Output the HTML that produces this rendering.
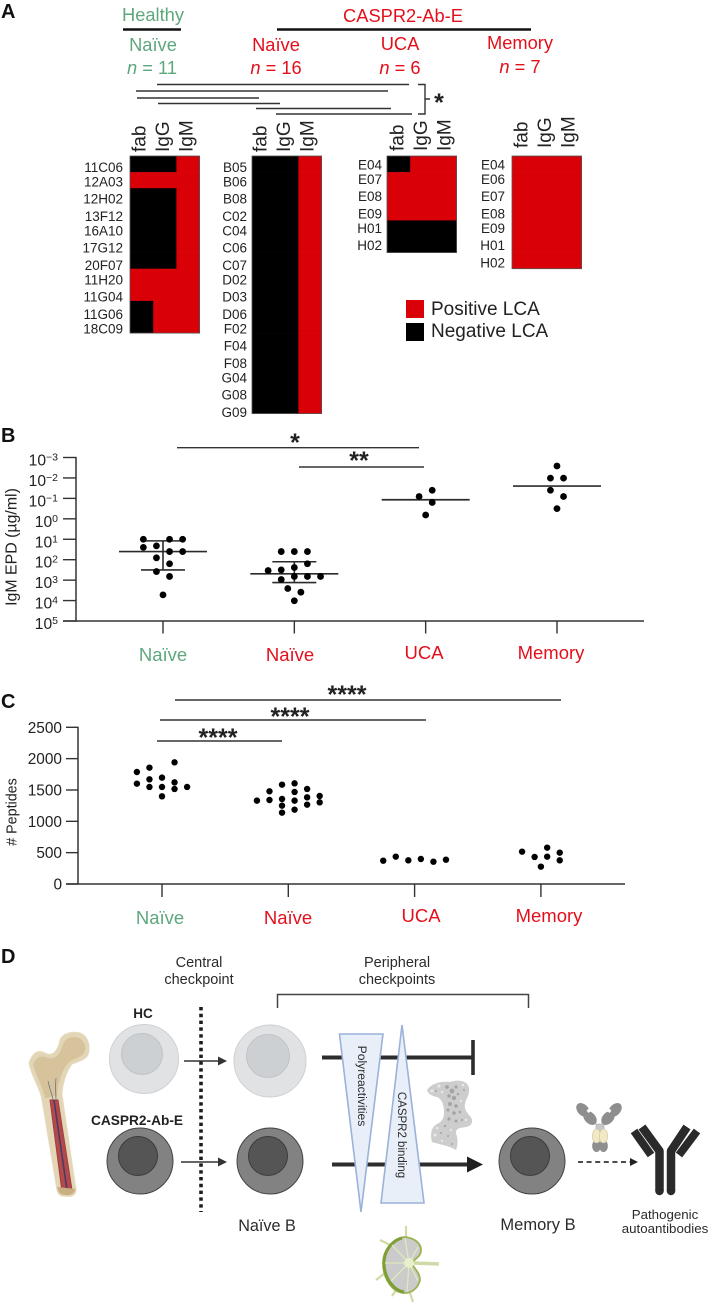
<!DOCTYPE html>
<html lang="en">
<head>
<meta charset="utf-8">
<title>CASPR2 antibody figure</title>
<style>
html,body{margin:0;padding:0;background:#fff;width:712px;height:1306px;overflow:hidden}
svg{display:block;filter:blur(.35px)}
text{font-family:"Liberation Sans",sans-serif}
.g{fill:#5ea77c}.r{fill:#e3101c}.k{fill:#222}
.t18{font-size:18.3px}
.xl{font-size:18.5px}
.pl{font-size:20px;font-weight:bold;fill:#111}
.star{font-size:25px;font-weight:bold;fill:#222;text-anchor:middle}
.d{fill:#2b2b2b;text-anchor:middle}
.sig{stroke:#333;stroke-width:1.4;fill:none}
</style>
</head>
<body>
<svg id="fig" xmlns="http://www.w3.org/2000/svg" width="712" height="1306" viewBox="0 0 712 1306">
<rect width="712" height="1306" fill="#fff"/>

<!-- PANEL A -->
<g>
<text class="pl" x="1" y="18">A</text>
<text class="g t18" x="153" y="21" text-anchor="middle">Healthy</text>
<text class="r t18" x="403" y="22" text-anchor="middle">CASPR2-Ab-E</text>
<line x1="123" x2="181" y1="29.5" y2="29.5" stroke="#111" stroke-width="2.4"/>
<line x1="277" x2="531" y1="29.5" y2="29.5" stroke="#111" stroke-width="2.4"/>
<text class="g t18" x="153" y="51" text-anchor="middle">Naïve</text>
<text class="r t18" x="276" y="51" text-anchor="middle">Naïve</text>
<text class="r t18" x="400" y="50" text-anchor="middle">UCA</text>
<text class="r t18" x="520" y="49" text-anchor="middle">Memory</text>
<text class="g t18" x="152" y="74" text-anchor="middle"><tspan font-style="italic">n</tspan> = 11</text>
<text class="r t18" x="276" y="74" text-anchor="middle"><tspan font-style="italic">n</tspan> = 16</text>
<text class="r t18" x="400" y="74" text-anchor="middle"><tspan font-style="italic">n</tspan> = 6</text>
<text class="r t18" x="520" y="73" text-anchor="middle"><tspan font-style="italic">n</tspan> = 7</text>
<g class="sig">
<line x1="157" x2="409" y1="84.5" y2="84.5"/>
<line x1="136" x2="388" y1="91" y2="91"/>
<line x1="137" x2="259" y1="98" y2="98"/>
<line x1="158" x2="280" y1="103.5" y2="103.5"/>
<line x1="256" x2="391" y1="108.5" y2="108.5"/>
<line x1="276" x2="412" y1="114" y2="114"/>
<path d="M418 84.5 H425 V114 H418 M425 99 H430"/>
</g>
<text class="star" x="439" y="111">*</text>
<g id="heatmaps"></g>
<rect x="406" y="300" width="18" height="18" fill="#d90008"/>
<rect x="406" y="323" width="18" height="18" fill="#000"/>
<text x="431" y="315" font-size="19" fill="#222">Positive LCA</text>
<text x="431" y="337" font-size="19" fill="#222">Negative LCA</text>
</g>

<!-- PANEL B -->
<g>
<text class="pl" x="1" y="442">B</text>
<text transform="translate(16.5 547) rotate(-90)" font-size="15.9" text-anchor="middle" fill="#222">IgM EPD (µg/ml)</text>
<g id="chartB"></g>
<text class="g xl" x="163" y="661" text-anchor="middle">Naïve</text>
<text class="r xl" x="290" y="661" text-anchor="middle">Naïve</text>
<text class="r xl" x="424" y="659" text-anchor="middle">UCA</text>
<text class="r xl" x="551" y="659" text-anchor="middle">Memory</text>
<line class="sig" x1="177" x2="419" y1="447.7" y2="447.7"/>
<line class="sig" x1="299" x2="424" y1="467" y2="467"/>
<text class="star" x="295" y="451">*</text>
<text class="star" x="359" y="469">**</text>
</g>

<!-- PANEL C -->
<g>
<text class="pl" x="1" y="708">C</text>
<text transform="translate(16.5 812) rotate(-90)" font-size="14.3" text-anchor="middle" fill="#222"># Peptides</text>
<g id="chartC"></g>
<text class="g xl" x="160" y="924" text-anchor="middle">Naïve</text>
<text class="r xl" x="288" y="924" text-anchor="middle">Naïve</text>
<text class="r xl" x="421" y="922" text-anchor="middle">UCA</text>
<text class="r xl" x="549" y="922" text-anchor="middle">Memory</text>
<line class="sig" x1="175" x2="561" y1="700" y2="700"/>
<line class="sig" x1="160" x2="426" y1="720" y2="720"/>
<line class="sig" x1="157" x2="282" y1="741" y2="741"/>
<text class="star" x="347" y="703">****</text>
<text class="star" x="290" y="725">****</text>
<text class="star" x="218" y="746">****</text>
</g>

<!-- PANEL D -->
<g>
<text class="pl" x="1" y="963">D</text>
<text class="d" font-size="14.5" x="199" y="967">Central</text>
<text class="d" font-size="14.5" x="199" y="984">checkpoint</text>
<text class="d" font-size="14.5" x="397" y="967">Peripheral</text>
<text class="d" font-size="14.5" x="397" y="984">checkpoints</text>
<path d="M277.5 1008 V994.5 H528.5 V1008" fill="none" stroke="#444" stroke-width="1.5"/>

<g>
<path d="M29 1063 C33 1052 38 1049 47 1054 C54 1056 58 1050 60 1040 C63 1033 72 1031 80 1033 C88 1036 91 1046 88 1055 C85 1060 77 1062 72 1064 C66 1072 62 1085 62 1095 L76 1190 C76 1196 70 1197 66 1196 C60 1197 58 1194 57 1190 L42 1100 C41 1090 32 1078 29 1063 Z" fill="#e3d6b6" stroke="#e6dabd" stroke-width="1"/>
<path d="M33 1064 C37 1056 42 1055 48 1058 C56 1060 61 1053 63 1044 C66 1037 73 1036 79 1038 C85 1041 87 1048 84 1053 C80 1058 73 1059 69 1062 C62 1070 58 1082 57 1096 L45 1098 C42 1085 36 1076 33 1064 Z" fill="#d6c39b"/>
<path d="M50 1100 L58 1100 L72 1190 L62 1192 Z" fill="#b24a4c" stroke="#a43c40" stroke-width="1"/>
<path d="M54 1100 L67 1190" stroke="#4b3a63" stroke-width="1.6" fill="none"/>
<path d="M48 1081 C50 1090 52 1094 53 1100 M56 1078 C55 1088 56 1094 56 1100" stroke="#6f7480" stroke-width=".8" fill="none"/>
<path d="M58 1190 C59 1197 74 1197 75 1190 L76 1189 L57 1187 Z" fill="#c9b083"/>
</g>

<text x="143" y="1018" font-size="13.5" font-weight="bold" fill="#222" text-anchor="middle">HC</text>
<text x="137" y="1125" font-size="13.7" font-weight="bold" fill="#222" text-anchor="middle">CASPR2-Ab-E</text>

<g><circle cx="144" cy="1059" r="34.5" fill="#e1e2e4" stroke="#cfd0d3"/><circle cx="142" cy="1054" r="20.5" fill="#ccd0d3" stroke="#c0c4c8"/></g>
<g><circle cx="270" cy="1061" r="36" fill="#e1e2e4" stroke="#cfd0d3"/><circle cx="268" cy="1056" r="21.5" fill="#ccd0d3" stroke="#c0c4c8"/></g>
<g><circle cx="140" cy="1161" r="33" fill="#828282" stroke="#444"/><circle cx="138" cy="1156" r="19.5" fill="#555" stroke="#3c3c3c"/></g>
<g><circle cx="270" cy="1161" r="33" fill="#828282" stroke="#444"/><circle cx="268" cy="1156" r="19.5" fill="#555" stroke="#3c3c3c"/></g>
<g><circle cx="532" cy="1161" r="33" fill="#828282" stroke="#444"/><circle cx="530" cy="1156" r="19.5" fill="#555" stroke="#3c3c3c"/></g>

<line x1="201" x2="201" y1="1007" y2="1212" stroke="#1d1d1d" stroke-width="3.6" stroke-dasharray="3.4 3.4"/>
<g fill="#333" stroke="#333">
<path d="M184 1061 H219" stroke-width="1.4" fill="none"/><path d="M218 1056.5 L227 1061 L218 1065.5 Z" stroke="none"/>
<path d="M181 1162 H219" stroke-width="1.4" fill="none"/><path d="M218 1157.5 L227 1162 L218 1166.5 Z" stroke="none"/>
</g>

<line x1="322" x2="473" y1="1057.5" y2="1057.5" stroke="#2d2d2d" stroke-width="4"/>
<line x1="473" x2="473" y1="1040" y2="1075" stroke="#2d2d2d" stroke-width="3.6"/>
<line x1="332" x2="470" y1="1164.5" y2="1164.5" stroke="#2d2d2d" stroke-width="4"/>
<path d="M467 1156.5 L483 1164.5 L467 1172.5 Z" fill="#1f1f1f"/>

<path d="M339.5 1034 H383 L361 1212 Z" fill="#e9eff9" stroke="#9bb2da" stroke-width="1.6"/>
<path d="M402 1025 L424 1203 H381 Z" fill="#e9eff9" stroke="#9bb2da" stroke-width="1.6"/>
<text transform="translate(358 1086) rotate(90)" font-size="12.1" fill="#2b2b2b" text-anchor="middle">Polyreactivities</text>
<text transform="translate(398 1135) rotate(90)" font-size="11.5" fill="#2b2b2b" text-anchor="middle">CASPR2 binding</text>

<g>
<path d="M427 1090 C431 1084 440 1081 450 1082 C459 1079 468 1081 469 1088 C470 1095 466 1098 465 1104 C464 1108 466 1112 470 1116 C474 1121 472 1126 466 1127 C460 1128 456 1128 456 1133 C458 1139 458 1145 456 1150 C450 1146 438 1144 432 1142 C430 1135 431 1127 437 1124 C442 1122 444 1118 444 1112 C444 1105 442 1099 437 1097 C432 1096 428 1094 427 1090 Z" fill="#cdcdcd"/>
<g fill="#9b9b9b" opacity=".8">
<circle cx="447" cy="1087" r="1.900"/><circle cx="452" cy="1091" r="2.400"/><circle cx="456" cy="1087" r="1.600"/><circle cx="449" cy="1096" r="1.800"/><circle cx="454" cy="1098" r="2.200"/><circle cx="458" cy="1094" r="1.300"/><circle cx="450" cy="1104" r="2"/><circle cx="456" cy="1106" r="1.800"/><circle cx="448" cy="1110" r="1.500"/><circle cx="454" cy="1113" r="1.800"/><circle cx="460" cy="1112" r="1.300"/><circle cx="449" cy="1119" r="1.600"/><circle cx="456" cy="1121" r="1.500"/><circle cx="462" cy="1120" r="1.100"/><circle cx="445" cy="1126" r="1.200"/><circle cx="441" cy="1133" r="1"/><circle cx="448" cy="1136" r="1"/><circle cx="436" cy="1091" r="1"/><circle cx="464" cy="1090" r="1"/><circle cx="452" cy="1144" r="1"/>
</g>
<g fill="#e9e9e9">
<circle cx="432" cy="1091" r="1.500"/><circle cx="439" cy="1086" r="1.500"/><circle cx="442" cy="1092" r="1.200"/><circle cx="463" cy="1085" r="1.300"/><circle cx="466" cy="1120" r="1.200"/><circle cx="435" cy="1135" r="1.500"/><circle cx="442" cy="1141" r="1.200"/><circle cx="437" cy="1128" r="1.300"/><circle cx="451" cy="1130" r="1.200"/><circle cx="461" cy="1101" r="1.100"/>
</g>
</g>

<g>
<g fill="#8e8e8e">
<ellipse cx="583" cy="1110" rx="5.500" ry="8" transform="rotate(-42 583 1110)"/>
<ellipse cx="590" cy="1118" rx="5.500" ry="8" transform="rotate(-42 590 1118)"/>
<ellipse cx="615" cy="1110" rx="5.500" ry="8" transform="rotate(42 615 1110)"/>
<ellipse cx="608" cy="1118" rx="5.500" ry="8" transform="rotate(42 608 1118)"/>
<ellipse cx="596.500" cy="1146" rx="4.400" ry="6"/><ellipse cx="603.500" cy="1146" rx="4.400" ry="6"/>
</g>
<path d="M586.500 1110.500 l2.500 -2 l2 2.500 l-2.500 2 Z M611.500 1110.500 l-2.500 -2 l-2 2.500 l2.500 2 Z" fill="#fff"/>
<rect x="596" y="1124" width="8" height="7" fill="#c8c8c8" stroke="#999" stroke-width=".5"/>
<ellipse cx="596.500" cy="1136" rx="4.200" ry="7" fill="#f0e9c4" stroke="#ccc49e" stroke-width=".6"/>
<ellipse cx="603.500" cy="1136" rx="4.200" ry="7" fill="#f0e9c4" stroke="#ccc49e" stroke-width=".6"/>
</g>
<g>
<line x1="578" x2="630" y1="1162" y2="1162" stroke="#333" stroke-width="1.7" stroke-dasharray="5 3.6"/>
<path d="M630 1158 L638 1162 L630 1166 Z" fill="#222"/>
</g>
<g fill="none" stroke="#2a2a2a" stroke-linejoin="round">
<path d="M659.500 1191 V1151 L642 1127" stroke-width="8.500"/>
<path d="M671 1191 V1151 L687 1127" stroke-width="8.500"/>
<circle cx="659.500" cy="1191" r="4.250" fill="#2a2a2a" stroke="none"/>
<circle cx="671" cy="1191" r="4.250" fill="#2a2a2a" stroke="none"/>
<path d="M634 1131 L651 1155" stroke-width="8"/>
<path d="M697 1131 L679 1155" stroke-width="8"/>
</g>

<text class="d" font-size="16.2" x="267" y="1231">Naïve B</text>
<text class="d" font-size="16.5" x="538" y="1230">Memory B</text>
<text class="d" font-size="13.3" x="665" y="1219">Pathogenic</text>
<text class="d" font-size="13.3" x="665" y="1233">autoantibodies</text>

<g>
<g stroke="#cfdba6" stroke-width="2.200" fill="none">
<path d="M406 1237 V1226"/><path d="M392 1246 L380 1240"/><path d="M385 1273 L376 1280"/><path d="M410 1293 L413 1302"/><path d="M396 1290 L392 1296"/>
<path d="M414 1263 L439 1264" stroke-width="3.400"/>
</g>
<path d="M405 1237 C414 1238 421 1243 421 1250 C421 1257 414 1259 412 1263 C413 1268 420 1272 420 1280 C418 1288 412 1293 405 1293 C392 1293 383 1278 383 1263 C383 1250 393 1238 405 1237 Z" fill="#cbcbcb" stroke="#9ab24e" stroke-width="1.800"/>
<path d="M402 1238 C391 1241 384 1252 384 1263 C384 1276 392 1290 404 1292" fill="none" stroke="#7f9e38" stroke-width="3"/>
<g stroke="#dfe8bd" stroke-width="1.300" fill="none">
<path d="M409 1263 L405 1238"/><path d="M409 1263 L392 1245"/><path d="M409 1263 L385 1263"/><path d="M409 1263 L391 1281"/><path d="M409 1263 L407 1292"/><path d="M409 1263 L418 1247"/><path d="M409 1263 L418 1281"/>
</g>
<circle cx="409" cy="1263" r="5" fill="#e8f0cb"/>
</g>
</g>
</svg>

<script>
// ---------- Panel A data ----------
const isotypes = ['fab', 'IgG', 'IgM'];
const healthyClones = ['11C06','12A03','12H02','13F12','16A10','17G12','20F07','11H20','11G04','11G06','18C09'];
const healthyLca = [[0,0,1],[1,1,1],[0,0,1],[0,0,1],[0,0,1],[0,0,1],[0,0,1],[1,1,1],[1,1,1],[0,1,1],[0,1,1]];
const naiveClones = ['B05','B06','B08','C02','C04','C06','C07','D02','D03','D06','F02','F04','F08','G04','G08','G09'];
const naiveLca = [[0,0,1],[0,0,1],[0,0,1],[0,0,1],[0,0,1],[0,0,1],[0,0,1],[0,0,1],[0,0,1],[0,0,1],[0,0,1],[0,0,1],[0,0,1],[0,0,1],[0,0,1],[0,0,1]];
const ucaClones = ['E04','E07','E08','E09','H01','H02'];
const ucaLca = [[0,1,1],[1,1,1],[1,1,1],[1,1,1],[0,0,0],[0,0,0]];
const memoryClones = ['E04','E06','E07','E08','E09','H01','H02'];
const memoryLca = [[1,1,1],[1,1,1],[1,1,1],[1,1,1],[1,1,1],[1,1,1],[1,1,1]];

// ---------- Panel B data ----------
const epdTickExponents = [-3,-2,-1,0,1,2,3,4,5];
const epdHealthy = [10,10,10,25,21,40,40,81,158,380,660,5250];
const epdHealthySwarm = [-1.5,0.5,1.5,-1.5,-0.5,0.5,1.5,-0.5,0.5,-0.5,0.5,0];
const epdNaive = [40,40,40,158,240,340,316,930,660,660,660,2570,3890,10200];
const epdNaiveSwarm = [-1,0,1,1,0,-2,-1,-1,0,1,2,-0.5,0.5,0];
const epdUca = [0.04,0.081,0.158,0.65];
const epdUcaSwarm = [0.5,-0.5,0.5,0];
const epdMemory = [0.0026,0.0102,0.0102,0.04,0.081,0.316];
const epdMemorySwarm = [0,-0.5,0.5,-0.5,0.5,0];
const epdMedians = [40,490,0.117,0.025];
const epdErrorLow = [12,126,null,null];
const epdErrorHigh = [316,1320,null,null];

// ---------- Panel C data ----------
const peptideTicks = [0,500,1000,1500,2000,2500];
const peptidesHealthy = [1787,1601,1856,1670,1548,1697,1548,1399,1941,1622,1516,1548];
const peptidesHealthySwarm = [-2,-2,-1,-1,-1,0,0,0,1,1,1,2];
const peptidesNaive = [1330,1479,1340,1585,1356,1250,1138,1606,1468,1330,1186,1516,1383,1266,1404,1303];
const peptidesNaiveSwarm = [-2.5,-1.5,-1.5,-0.5,-0.5,-0.5,-0.5,0.5,0.5,0.5,0.5,1.5,1.5,1.5,2.5,2.5];
const peptidesUca = [372,436,378,399,356,388];
const peptidesUcaSwarm = [-2.5,-1.5,-0.5,0.5,1.5,2.5];
const peptidesMemory = [516,431,277,580,436,500,378];
const peptidesMemorySwarm = [-1.5,-0.5,0,0.5,0.5,1.5,1.5];

const NS = 'http://www.w3.org/2000/svg';
function mk(tag, attrs, parent) {
  const e = document.createElementNS(NS, tag);
  for (const k in attrs) e.setAttribute(k, attrs[k]);
  parent.appendChild(e);
  return e;
}

// ---------- Heatmaps ----------
const heatRoot = document.getElementById('heatmaps');
const heatColW = 23.2, heatRowH = 16.1, heatTop = 156;
const labelStep = [0, 14.3, 31.3];
function labelY(base, i) { return base + Math.floor(i / 3) * 49 + labelStep[i % 3]; }
function heatmap(clones, cells, left, labelRight, labelBase, headerBottom, headerLeft) {
  const xBand = c => left + c * heatColW;
  const yBand = r => heatTop + r * heatRowH;
  cells.forEach((row, r) => {
    row.forEach((v, c) => {
      const cell = mk('rect', {x: xBand(c), y: yBand(r), width: heatColW + .3, height: heatRowH + .3, fill: v ? '#d90008' : '#000'}, heatRoot);
      
      
    });
    const lab = mk('text', {x: labelRight, y: labelY(labelBase, r) + 5, 'font-size': 13.5, 'text-anchor': 'end', fill: '#222'}, heatRoot);
    lab.textContent = clones[r];
    
    
  });
  const frame = mk('rect', {x: left, y: heatTop, width: heatColW * 3, height: heatRowH * cells.length, fill: 'none', stroke: '#555', 'stroke-width': .8}, heatRoot);
  
  
  isotypes.forEach((name, c) => {
    const hx = headerLeft + c * 23.6;
    const h = mk('text', {transform: 'translate(' + (hx + 6.5) + ' ' + headerBottom + ') rotate(-90)', 'font-size': 19, fill: '#222'}, heatRoot);
    h.textContent = name;
    
    
  });
}
heatmap(healthyClones, healthyLca, 130, 123, 167, 152, 139);
heatmap(naiveClones, naiveLca, 252, 247, 167, 152, 260);
heatmap(ucaClones, ucaLca, 387, 382, 164.7, 151, 397);
heatmap(memoryClones, memoryLca, 512, 505, 164.7, 148, 521);

// ---------- Panel B chart ----------
const bRoot = document.getElementById('chartB');
const bAxisColor = '#333';
const yEpd = v => 457.5 + (Math.log10(v) + 3) * 20.44;
const yExp = e => 457.5 + (e + 3) * 20.44;
const xEpd = i => 163 + i * 131.33;

const bYAxis = mk('line', {x1: 76, x2: 76, y1: yExp(-3) - .6, y2: yExp(5) + .6, stroke: bAxisColor, 'stroke-width': 1.5}, bRoot);


const bXAxis = mk('line', {x1: 63, x2: 644, y1: yExp(5), y2: yExp(5), stroke: bAxisColor, 'stroke-width': 1.5}, bRoot);



epdTickExponents.forEach(e => {
  const y = yExp(e);
  const tick = mk('line', {x1: 63, x2: 76, y1: y, y2: y, stroke: bAxisColor, 'stroke-width': 1.4}, bRoot);
  
  
  const t = mk('text', {x: 58, y: y + 8, 'text-anchor': 'end', 'font-size': 15.6, fill: '#222'}, bRoot);
  
  
  const base = mk('tspan', {}, t);
  base.textContent = '10';
  const sup = mk('tspan', {dy: -5, 'font-size': 10.5}, t);
  sup.textContent = e < 0 ? '\u2212' + (-e) : String(e);
});
[0, 1, 2, 3].forEach(i => {
  const tick = mk('line', {x1: xEpd(i), x2: xEpd(i), y1: yExp(5), y2: yExp(5) + 12.5, stroke: bAxisColor, 'stroke-width': 1.4}, bRoot);
  
  
  const med = mk('line', {x1: xEpd(i) - 44, x2: xEpd(i) + 44, y1: yEpd(epdMedians[i]), y2: yEpd(epdMedians[i]), stroke: '#2b2b2b', 'stroke-width': 1.7}, bRoot);
  
  
  if (epdErrorLow[i] !== null) {
    const err = mk('path', {d: 'M' + (xEpd(i) - 22) + ' ' + yEpd(epdErrorLow[i]) + 'H' + (xEpd(i) + 22) + 'M' + xEpd(i) + ' ' + yEpd(epdErrorLow[i]) + 'V' + yEpd(epdErrorHigh[i]) + 'M' + (xEpd(i) - 22) + ' ' + yEpd(epdErrorHigh[i]) + 'H' + (xEpd(i) + 22), fill: 'none', stroke: '#2b2b2b', 'stroke-width': 1.6}, bRoot);
    
    
  }
});
[[epdHealthy, epdHealthySwarm], [epdNaive, epdNaiveSwarm], [epdUca, epdUcaSwarm], [epdMemory, epdMemorySwarm]].forEach((g, i) => {
  g[0].forEach((v, k) => {
    const dot = mk('circle', {cx: xEpd(i) + g[1][k] * 13.1, cy: yEpd(v), r: 3.4, fill: '#000'}, bRoot);
    
    
  });
});

// ---------- Panel C chart ----------
const cRoot = document.getElementById('chartC');
const yPep = v => 884 - v * 156.7 / 2500;
const xPep = i => 162 + i * 126.3;

const cYAxis = mk('line', {x1: 78, x2: 78, y1: yPep(2500) - .6, y2: yPep(0) + .6, stroke: '#333', 'stroke-width': 1.5}, cRoot);


const cXAxis = mk('line', {x1: 66, x2: 625, y1: yPep(0), y2: yPep(0), stroke: '#333', 'stroke-width': 1.5}, cRoot);



peptideTicks.forEach(v => {
  const y = yPep(v);
  const tick = mk('line', {x1: 66, x2: 78, y1: y, y2: y, stroke: '#333', 'stroke-width': 1.4}, cRoot);
  
  
  const t = mk('text', {x: 62, y: y + 5.5, 'text-anchor': 'end', 'font-size': 15.4, fill: '#222'}, cRoot);
  t.textContent = String(v);
  
  
});
[0, 1, 2, 3].forEach(i => {
  const tick = mk('line', {x1: xPep(i), x2: xPep(i), y1: yPep(0), y2: yPep(0) + 13, stroke: '#333', 'stroke-width': 1.4}, cRoot);
  
  
});
[[peptidesHealthy, peptidesHealthySwarm], [peptidesNaive, peptidesNaiveSwarm], [peptidesUca, peptidesUcaSwarm], [peptidesMemory, peptidesMemorySwarm]].forEach((g, i) => {
  g[0].forEach((v, k) => {
    const dot = mk('circle', {cx: xPep(i) + g[1][k] * 12.55, cy: yPep(v), r: 3.2, fill: '#000'}, cRoot);
    
    
  });
});
</script>
</body>
</html>
